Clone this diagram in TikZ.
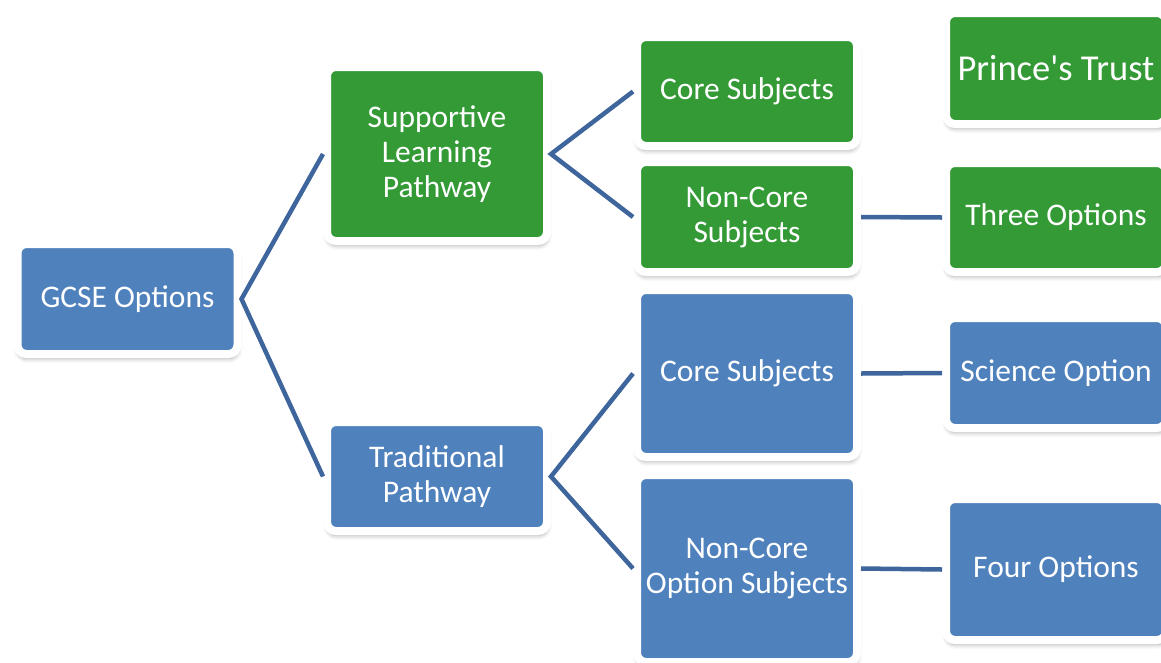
\documentclass[tikz,border=0pt]{standalone}
\usepackage{fontspec}
\setmainfont{Carlito}
\newfontfamily\straightfont{Carlito}[Ligatures=TeXOff]
\usetikzlibrary{shadows.blur}
\definecolor{boxblue}{RGB}{79,129,189}
\definecolor{boxgreen}{RGB}{52,154,54}
\definecolor{linkblue}{RGB}{62,101,156}
\begin{document}
\begin{tikzpicture}[x=1pt,y=-1pt,
  box/.style={draw=white, line width=8pt, rounded corners=9pt, text=white,
    font=\fontsize{31.5}{35}\selectfont, align=center, inner sep=0pt,
    minimum width=220pt,
    blur shadow={shadow xshift=0.5pt, shadow yshift=-4.5pt, shadow blur radius=4.5pt, shadow opacity=35}},
  bbox/.style={box, fill=boxblue},
  gbox/.style={box, fill=boxgreen},
  link/.style={draw=linkblue, line width=4.5pt, line join=miter}]
\useasboundingbox (0,0) rectangle (1161,662);
\clip (0,0) rectangle (1161,662);
\node[bbox, minimum height=110pt] (gcse) at (127.5,299) {GCSE Options};
\node[gbox, minimum height=174pt] (slp) at (437,154) {Supportive\\Learning\\Pathway};
\node[bbox, minimum height=109pt] (trad) at (437,476.5) {Traditional\\Pathway};
\node[gbox, minimum height=109pt] (core1) at (747,91.5) {Core Subjects};
\node[gbox, minimum height=110pt] (noncore1) at (747,217) {Non-Core\\Subjects};
\node[bbox, minimum height=167pt] (core2) at (747,373.5) {Core Subjects};
\node[bbox, minimum height=187pt] (noncore2) at (747,568.5) {Non-Core\\Option Subjects};
\node[gbox, minimum height=111pt, font=\straightfont\fontsize{36.5}{40}\selectfont] (prince) at (1056,68.5) {Prince's Trust};
\node[gbox, minimum height=109pt] (three) at (1056,217.5) {Three Options};
\node[bbox, minimum height=110pt] (science) at (1056,373) {Science Option};
\node[bbox, minimum height=141pt] (four) at (1056,569.5) {Four Options};
\draw[link] (slp.west) -- (gcse.east) -- (trad.west);
\draw[link] (core1.west) -- (slp.east) -- (noncore1.west);
\draw[link] (core2.west) -- (trad.east) -- (noncore2.west);
\draw[link] (noncore1.east) -- (three.west);
\draw[link] (core2.east) -- (science.west);
\draw[link] (noncore2.east) -- (four.west);
\end{tikzpicture}
\end{document}
